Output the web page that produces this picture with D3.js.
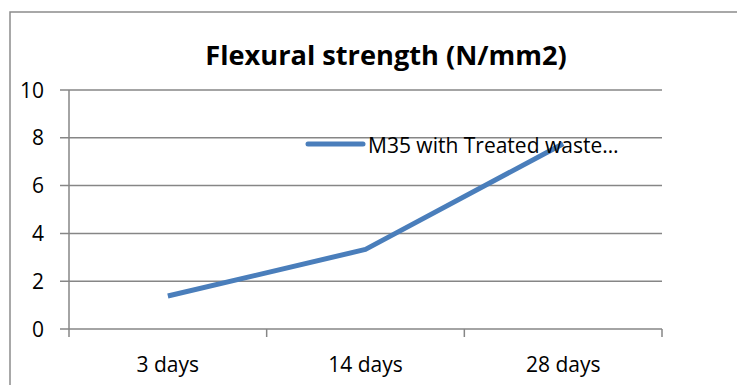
<!DOCTYPE html>
<html>
<head>
<meta charset="utf-8">
<script src="https://cdn.jsdelivr.net/npm/d3@7"></script>
<style>
  html, body { margin: 0; padding: 0; background: #fff; }
  svg { display: block; }
  text { font-family: "Open Sans", "Liberation Sans", sans-serif; fill: #000; }
</style>
</head>
<body>
<script>
// Flexural strength over curing age
const categories = ["3 days", "14 days", "28 days"];
const seriesName = "M35 with Treated waste…";
const strength = [1.38, 3.33, 7.75];
const yTicks = [0, 2, 4, 6, 8, 10];

const W = 737, H = 385;
const svg = d3.select("body").append("svg").attr("width", W).attr("height", H);

// outer chart frame (left and top edges)
svg.append("path")
  .attr("d", "M10,385 V12 H737")
  .attr("fill", "none").attr("stroke", "#8c8c8c").attr("stroke-width", 1.5);

const x0 = 69, x1 = 662, yTop = 90, yBot = 329;
const x = d3.scalePoint().domain(categories).range([x0, x1]).padding(0.5);
const xb = d3.scaleBand().domain(categories).range([x0, x1]);
const y = d3.scaleLinear().domain([0, 10]).range([yBot, yTop]);

const grid = "#868686";

// horizontal gridlines with left tick stubs
svg.append("g").selectAll("line").data(yTicks).join("line")
  .attr("x1", x0 - 9).attr("x2", x1)
  .attr("y1", d => y(d)).attr("y2", d => y(d))
  .attr("stroke", grid).attr("stroke-width", 1.5);

// vertical axis line
svg.append("line")
  .attr("x1", x0).attr("x2", x0).attr("y1", yTop).attr("y2", yBot + 8)
  .attr("stroke", grid).attr("stroke-width", 1.5);

// category boundary ticks
const bounds = categories.map(c => xb(c) + xb.bandwidth());
svg.append("g").selectAll("line").data(bounds).join("line")
  .attr("x1", d => d).attr("x2", d => d)
  .attr("y1", yBot).attr("y2", yBot + 8)
  .attr("stroke", grid).attr("stroke-width", 1.5);

// y tick labels
svg.append("g").selectAll("text").data(yTicks).join("text")
  .attr("x", 44).attr("y", d => y(d))
  .attr("dy", "0.36em").attr("text-anchor", "end")
  .style("font-size", "21px")
  .text(d => d);

// category labels
svg.append("g").selectAll("text").data(categories).join("text")
  .attr("x", d => x(d)).attr("y", 364)
  .attr("dy", "0.36em").attr("text-anchor", "middle")
  .style("font-size", "21px")
  .text(d => d);

// title
svg.append("text")
  .attr("x", 386).attr("y", 55).attr("dy", "0.36em")
  .attr("text-anchor", "middle")
  .style("font-size", "27.2px").style("font-weight", "bold")
  .text("Flexural strength (N/mm2)");

// series line
const line = d3.line().x((d, i) => x(categories[i])).y(d => y(d));
svg.append("path")
  .datum(strength)
  .attr("d", line)
  .attr("fill", "none")
  .attr("stroke", "#4A7EBB")
  .attr("stroke-width", 5)
  .attr("stroke-linejoin", "round");

// legend
const lg = svg.append("g").attr("transform", "translate(308,144)");
lg.append("line").attr("x1", 0).attr("x2", 55).attr("y1", 0).attr("y2", 0)
  .attr("stroke", "#4A7EBB").attr("stroke-width", 5).attr("stroke-linecap", "round");
lg.append("text").attr("x", 60).attr("y", 1).attr("dy", "0.36em")
  .style("font-size", "21px")
  .text(seriesName);
</script>
</body>
</html>
